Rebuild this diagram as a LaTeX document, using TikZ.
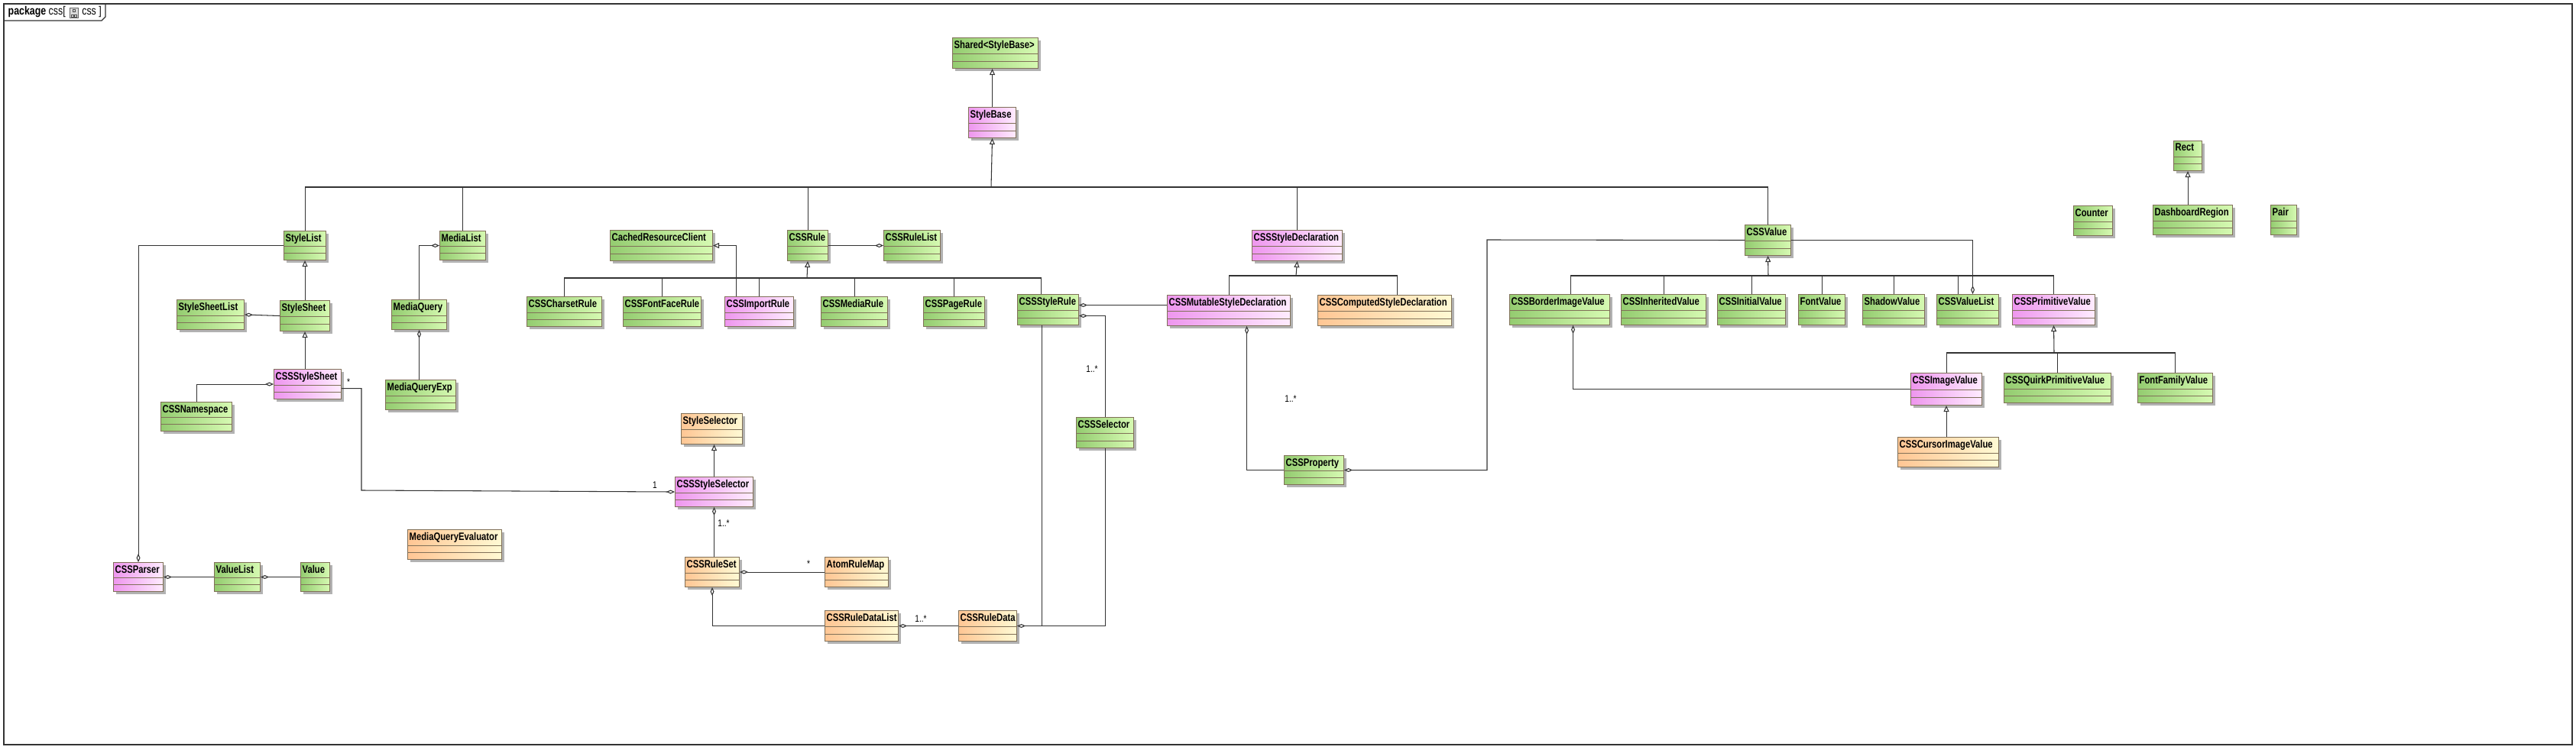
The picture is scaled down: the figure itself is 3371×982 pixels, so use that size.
\documentclass[tikz,border=0pt]{standalone}
\usepackage{fontspec}
\setmainfont{Liberation Sans}[FakeStretch=0.8]
\usepackage{tikz}
\usetikzlibrary{arrows.meta,calc,shadows}

\definecolor{umlborder}{RGB}{128,112,88}
\definecolor{greenL}{RGB}{148,204,112}
\definecolor{greenR}{RGB}{214,250,178}
\definecolor{pinkL}{RGB}{238,150,238}
\definecolor{pinkR}{RGB}{255,236,255}
\definecolor{orangeL}{RGB}{255,198,148}
\definecolor{orangeR}{RGB}{255,250,212}

\tikzset{
	cls/.style={draw=umlborder,line width=0.3pt,anchor=north west,inner sep=0pt,
		drop shadow={shadow xshift=0.03cm,shadow yshift=-0.03cm,fill=black!30,opacity=1}},
	green/.style={left color=greenL,right color=greenR},
	pink/.style={left color=pinkL,right color=pinkR},
	orange/.style={left color=orangeL,right color=orangeR},
	ctext/.style={anchor=north west,inner xsep=0.02cm,inner ysep=0.035cm,font=\fontsize{4}{4.5}\selectfont\bfseries},
	mult/.style={font=\fontsize{3.6}{4}\selectfont,inner sep=0pt},
	conn/.style={line width=0.3pt,draw=black!80},
	gen/.style={conn,-{Triangle[open,length=0.08cm,width=0.07cm]}},
	agg/.style={conn,{Diamond[open,length=0.11cm,width=0.05cm]}-},
}

\newcommand{\umlcls}[7]{%
	\node[cls,#6,minimum width=#4*0.01cm,minimum height=#5*0.01cm] (#1) at (#2,#3) {};
	\node[ctext] at (#1.north west) {#7};
	\draw[umlborder,line width=0.3pt] ($(#1.north west)!0.53!(#1.south west)$) -- ($(#1.north east)!0.53!(#1.south east)$);
	\draw[umlborder,line width=0.3pt] ($(#1.north west)!0.76!(#1.south west)$) -- ($(#1.north east)!0.76!(#1.south east)$);
}

\begin{document}
\begin{tikzpicture}[x=0.01cm,y=-0.01cm]
	\useasboundingbox[fill=white] (0,0) rectangle (3371,982);

	\draw[line width=0.4pt,black!80] (5,5) rectangle (3366,975);
	\draw[line width=0.4pt,black!80] (5,27) -- (133,27) -- (138,22) -- (138,5);
	\node[anchor=west,inner sep=0pt,font=\fontsize{4.4}{5}\selectfont] (pkg) at (10,16) {\textbf{package} css[\,\phantom{XX}\,css ]};
	\draw[black!60,fill=black!15,line width=0.2pt] (91,10) rectangle (102,23);
	\draw[black!70,line width=0.2pt] (95,12) rectangle (98,15) (93,19) rectangle (96,22) (97,19) rectangle (100,22);

	\umlcls{sharedbase}{1246}{49}{112}{40}{green}{Shared<StyleBase>}
	\umlcls{stylebase}{1267}{140}{62}{40}{pink}{StyleBase}

	\umlcls{stylelist}{371}{302}{55}{38}{green}{StyleList}
	\umlcls{medialist}{575}{302}{60}{38}{green}{MediaList}
	\umlcls{stylesheetlist}{231}{392}{88}{39}{green}{StyleSheetList}
	\umlcls{stylesheet}{366}{393}{65}{40}{green}{StyleSheet}
	\umlcls{mediaquery}{512}{392}{72}{39}{green}{MediaQuery}
	\umlcls{cssstylesheet}{358}{483}{88}{39}{pink}{CSSStyleSheet}
	\umlcls{mediaqueryexp}{504}{497}{92}{39}{green}{MediaQueryExp}
	\umlcls{cssnamespace}{210}{526}{93}{38}{green}{CSSNamespace}
	\umlcls{cssparser}{148}{736}{65}{38}{pink}{CSSParser}
	\umlcls{valuelist}{280}{736}{60}{38}{green}{ValueList}
	\umlcls{value}{393}{736}{38}{38}{green}{Value}
	\umlcls{mqevaluator}{533}{693}{123}{39}{orange}{MediaQueryEvaluator}

	\umlcls{cachedclient}{798}{301}{134}{40}{green}{CachedResourceClient}
	\umlcls{cssrule}{1030}{301}{53}{40}{green}{CSSRule}
	\umlcls{cssrulelist}{1156}{301}{74}{40}{green}{CSSRuleList}
	\umlcls{charsetrule}{689}{388}{98}{39}{green}{CSSCharsetRule}
	\umlcls{fontfacerule}{815}{388}{102}{39}{green}{CSSFontFaceRule}
	\umlcls{importrule}{948}{388}{90}{39}{pink}{CSSImportRule}
	\umlcls{mediarule}{1074}{388}{87}{39}{green}{CSSMediaRule}
	\umlcls{pagerule}{1208}{388}{80}{39}{green}{CSSPageRule}
	\umlcls{stylerule}{1331}{385}{80}{40}{green}{CSSStyleRule}

	\umlcls{styleselector}{891}{541}{80}{40}{orange}{StyleSelector}
	\umlcls{cssstyleselector}{883}{624}{102}{39}{pink}{CSSStyleSelector}
	\umlcls{cssruleset}{896}{729}{71}{39}{orange}{CSSRuleSet}
	\umlcls{atomrulemap}{1079}{729}{83}{39}{orange}{AtomRuleMap}
	\umlcls{ruledatalist}{1079}{799}{96}{40}{orange}{CSSRuleDataList}
	\umlcls{ruledata}{1254}{799}{76}{40}{orange}{CSSRuleData}
	\umlcls{cssselector}{1408}{546}{75}{40}{green}{CSSSelector}

	\umlcls{styledecl}{1638}{301}{118}{40}{pink}{CSSStyleDeclaration}
	\umlcls{mutabledecl}{1527}{386}{161}{40}{pink}{CSSMutableStyleDeclaration}
	\umlcls{computeddecl}{1724}{386}{175}{40}{orange}{CSSComputedStyleDeclaration}
	\umlcls{cssproperty}{1680}{596}{78}{38}{green}{CSSProperty}

	\umlcls{cssvalue}{2283}{294}{60}{40}{green}{CSSValue}
	\umlcls{borderimage}{1975}{385}{131}{40}{green}{CSSBorderImageValue}
	\umlcls{inherited}{2121}{385}{111}{40}{green}{CSSInheritedValue}
	\umlcls{initial}{2247}{385}{89}{40}{green}{CSSInitialValue}
	\umlcls{fontvalue}{2353}{385}{61}{40}{green}{FontValue}
	\umlcls{shadowvalue}{2437}{385}{81}{40}{green}{ShadowValue}
	\umlcls{cssvaluelist}{2534}{385}{81}{40}{green}{CSSValueList}
	\umlcls{primitive}{2633}{385}{108}{40}{pink}{CSSPrimitiveValue}
	\umlcls{imagevalue}{2500}{488}{93}{42}{pink}{CSSImageValue}
	\umlcls{quirk}{2622}{488}{140}{39}{green}{CSSQuirkPrimitiveValue}
	\umlcls{fontfamily}{2797}{488}{98}{39}{green}{FontFamilyValue}
	\umlcls{cursorimage}{2483}{572}{132}{39}{orange}{CSSCursorImageValue}

	\umlcls{rect}{2844}{184}{37}{39}{green}{Rect}
	\umlcls{counter}{2713}{269}{51}{39}{green}{Counter}
	\umlcls{dashboard}{2817}{268}{104}{39}{green}{DashboardRegion}
	\umlcls{pair}{2971}{268}{34}{39}{green}{Pair}

	\coordinate (bus) at (1297,245);
	\coordinate (rulebus) at (1056,364);
	\coordinate (declbus) at (1696,361);
	\coordinate (valbus) at (2314,361);
	\coordinate (primbus) at (2688,462);
	\coordinate (sheetbend) at (473,642);
	\coordinate (valuebend) at (1946,314);

	\draw[gen] (stylebase.north) -- (stylebase.north |- sharedbase.south);
	\draw[gen] (bus) -- (stylebase.south);
	\draw[conn] (stylelist.north) |- (bus) -| (cssvalue.north);
	\draw[conn] (medialist.north) -- (medialist.north |- bus);
	\draw[conn] (cssrule.north) -- (cssrule.north |- bus);
	\draw[conn] (styledecl.north) -- (styledecl.north |- bus);

	\draw[gen] (stylesheet.north) -- (stylelist.south);
	\draw[gen] (cssstylesheet.north -| stylesheet.south) -- (stylesheet.south);
	\draw[agg] (stylesheetlist.east) -- (stylesheet.west);
	\draw[agg] (cssparser.north) |- (stylelist.west);
	\draw[agg] (medialist.west) -| (mediaquery.north);
	\draw[agg] (mediaquery.south) -- (mediaquery.south |- mediaqueryexp.north);
	\draw[agg] (cssstylesheet.west) -| (cssnamespace.north);
	\draw[agg] (cssparser.east) -- (valuelist.west);
	\draw[agg] (valuelist.east) -- (value.west);
	\draw[agg] (cssstyleselector.west) -- (sheetbend) |- ([yshift=-0.055cm]cssstylesheet.east);
	\node[mult] (m1) at (456,500) {*};
	\node[mult] (m2) at (857,635) {1};

	\draw[gen] (rulebus) -- (cssrule.south);
	\draw[conn] (charsetrule.north) |- (rulebus) -| ([xshift=-0.09cm]stylerule.north);
	\draw[conn] (fontfacerule.north) -- (fontfacerule.north |- rulebus);
	\draw[conn] (importrule.north) -- (importrule.north |- rulebus);
	\draw[conn] (mediarule.north) -- (mediarule.north |- rulebus);
	\draw[conn] (pagerule.north) -- (pagerule.north |- rulebus);
	\draw[gen] ([xshift=-0.3cm]importrule.north) |- (cachedclient.east);
	\draw[agg] (cssrulelist.west) -- (cssrule.east);

	\draw[gen] (cssstyleselector.north) -- (cssstyleselector.north |- styleselector.south);
	\draw[agg] (cssstyleselector.south) -- (cssstyleselector.south |- cssruleset.north);
	\node[mult] (m3) at (947,685) {1..*};
	\draw[agg] (cssruleset.east) -- (atomrulemap.west);
	\node[mult] (m4) at (1058,738) {*};
	\draw[agg] (cssruleset.south) |- (ruledatalist.west);
	\draw[agg] (ruledatalist.east) -- (ruledata.west);
	\node[mult] (m5) at (1205,810) {1..*};
	\draw[agg] (ruledata.east) -| (cssselector.south);
	\draw[conn] ([xshift=-0.08cm]stylerule.south) -- ([xshift=-0.08cm]stylerule.south |- ruledata.east);
	\draw[agg] ([yshift=0.06cm]stylerule.east) coordinate (sr1) -- (mutabledecl.west |- sr1);
	\draw[agg] ([yshift=-0.08cm]stylerule.east) coordinate (sr2) -| (cssselector.north);
	\node[mult] (m6) at (1429,483) {1..*};

	\draw[gen] (declbus) -- (styledecl.south);
	\draw[conn] (mutabledecl.north) |- (declbus) -| ([xshift=0.16cm]computeddecl.north);
	\draw[agg] ([xshift=0.235cm]mutabledecl.south) |- (cssproperty.west);
	\node[mult] (m7) at (1689,522) {1..*};
	\draw[agg] (cssproperty.east) -| (valuebend) -- (cssvalue.west);

	\draw[gen] (valbus) -- (cssvalue.south);
	\draw[conn] ([xshift=0.145cm]borderimage.north) |- (valbus) -| (primitive.north);
	\draw[conn] (inherited.north) -- (inherited.north |- valbus);
	\draw[conn] (initial.north) -- (initial.north |- valbus);
	\draw[conn] (fontvalue.north) -- (fontvalue.north |- valbus);
	\draw[conn] (shadowvalue.north) -- (shadowvalue.north |- valbus);
	\draw[conn] ([xshift=-0.125cm]cssvaluelist.north) -- ([xshift=-0.125cm]cssvaluelist.north |- valbus);
	\draw[agg] ([xshift=0.065cm]cssvaluelist.north) |- (cssvalue.east);

	\draw[gen] (primbus) -- (primitive.south);
	\draw[conn] (imagevalue.north) |- (primbus) -| (fontfamily.north);
	\draw[conn] (quirk.north) -- (quirk.north |- primbus);
	\draw[gen] (cursorimage.north -| imagevalue.south) -- (imagevalue.south);
	\draw[agg] ([xshift=0.175cm]borderimage.south) |- (imagevalue.west);

	\draw[gen] (dashboard.north -| rect.south) -- (rect.south);
\end{tikzpicture}
\end{document}
